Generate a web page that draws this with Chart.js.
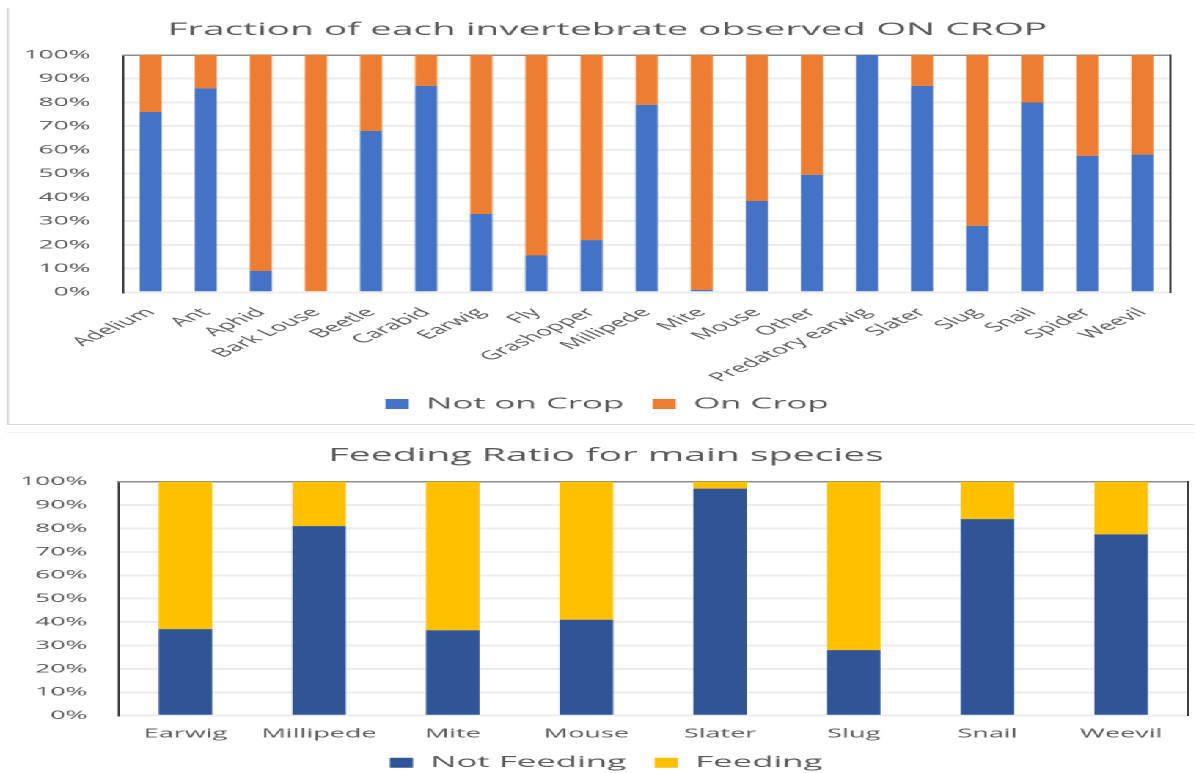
<!DOCTYPE html>
<html>
<head>
<meta charset="utf-8">
<script src="https://cdn.jsdelivr.net/npm/chart.js@4.4.1/dist/chart.umd.min.js"></script>
<style>
  html, body { margin: 0; padding: 0; background: #fff; overflow: hidden; width: 1195px; height: 773px; }
  /* both charts are laid out on a narrow stage that is widened horizontally */
  #stage { position: absolute; left: 0; top: 0; width: 543px; height: 781px; transform: scaleX(2.2); transform-origin: 0 0; }
  .card { position: absolute; box-sizing: border-box; }
  #cardTop { left: 3px; top: 8px; width: 540px; height: 417px; border-left: 1px solid #d9d9d9; border-bottom: 1px solid #d9d9d9; }
  #cardBottom { left: 3px; top: 432px; width: 540px; height: 349px; border-top: 1px solid #f0f0f0; }
  .box { position: relative; width: 100%; height: 100%; }
</style>
</head>
<body>
<div id="stage">
  <div class="card" id="cardTop"><div class="box"><canvas id="cropChart"></canvas></div></div>
  <div class="card" id="cardBottom"><div class="box"><canvas id="feedChart"></canvas></div></div>
</div>
<script>
// ---- data ----
const allSpecies = ['Adelium', 'Ant', 'Aphid', 'Bark Louse', 'Beetle', 'Carabid', 'Earwig', 'Fly',
  'Grashopper', 'Millipede', 'Mite', 'Mouse', 'Other', 'Predatory earwig', 'Slater', 'Slug',
  'Snail', 'Spider', 'Weevil'];
const notOnCrop = [76, 86, 9, 0, 68, 87, 33, 15.5, 22, 79, 1, 38.5, 49.5, 100, 87, 28, 80, 57.5, 58];
const onCrop    = [24, 14, 91, 100, 32, 13, 67, 84.5, 78, 21, 99, 61.5, 50.5, 0, 13, 72, 20, 42.5, 42];

const mainSpecies = ['Earwig', 'Millipede', 'Mite', 'Mouse', 'Slater', 'Slug', 'Snail', 'Weevil'];
const notFeeding = [37, 81, 36.5, 41, 97, 28, 84, 77.5];
const feeding    = [63, 19, 63.5, 59, 3, 72, 16, 22.5];

const percentTickLabels = ['0%', '10%', '20%', '30%', '40%', '50%', '60%', '70%', '80%', '90%', '100%'];

// ---- styling ----
Chart.defaults.font.family = "'Open Sans', sans-serif";
const TEXT = '#595959';
const GRID = '#ececec';
const FRAME_DARK = '#3d3d3d';
const FRAME_TOP = '#8c8c8c';

function stackedPercentChart(id, o) {
  return new Chart(document.getElementById(id), {
    type: 'bar',
    data: {
      labels: o.labels,
      datasets: o.series.map(s => ({
        label: s.label, data: s.data, backgroundColor: s.color,
        borderWidth: 0, barPercentage: 0.4, categoryPercentage: 1
      }))
    },
    options: {
      responsive: true,
      maintainAspectRatio: false,
      animation: false,
      devicePixelRatio: 2,
      layout: { padding: { left: o.padLeft, right: 0, top: 0, bottom: o.padBottom } },
      plugins: {
        title: {
          display: true, text: o.title, color: TEXT,
          font: { size: o.titleSize, weight: 'normal' },
          padding: { top: o.titleTop, bottom: o.titleBottom }
        },
        legend: {
          position: 'bottom',
          labels: { color: TEXT, font: { size: 15.8 }, boxWidth: 10.5, boxHeight: 10, padding: 13 }
        },
        tooltip: { enabled: false }
      },
      scales: {
        x: {
          stacked: true,
          grid: { display: false, drawTicks: false },
          border: { display: false },
          ticks: {
            color: TEXT, font: { size: o.xFont }, autoSkip: false,
            maxRotation: o.rotation, minRotation: o.rotation, padding: o.xPad
          },
          afterFit: s => { s.height = o.xHeight; }
        },
        y: {
          stacked: true, min: 0, max: 100,
          ticks: {
            stepSize: 10, color: TEXT, font: { size: 12 }, padding: o.yPad,
            callback: v => percentTickLabels[Math.round(v / 10)]
          },
          grid: {
            drawTicks: false, lineWidth: 2,
            color: c => (c.tick && c.tick.value === 100) ? 'rgba(0,0,0,0)' : GRID
          },
          border: { color: FRAME_DARK, width: 1 },
          afterFit: s => { s.width = o.yWidth; }
        },
        xTop: {
          type: 'category', labels: o.labels, position: 'top',
          grid: { display: false }, ticks: { display: false },
          border: { color: FRAME_TOP, width: 1.5 },
          afterFit: s => { s.height = 0; }
        },
        yRight: {
          type: 'linear', position: 'right',
          grid: { display: false }, ticks: { display: false },
          border: { color: FRAME_DARK, width: 1 },
          afterFit: s => { s.width = o.yRightWidth; }
        }
      }
    }
  });
}

stackedPercentChart('cropChart', {
  labels: allSpecies,
  series: [
    { label: 'Not on Crop', data: notOnCrop, color: '#4472C4' },
    { label: 'On Crop', data: onCrop, color: '#ED7D31' }
  ],
  title: 'Fraction of each invertebrate observed ON CROP',
  titleSize: 17.6, titleTop: 11.4, titleBottom: 14.5,
  padLeft: 5, padBottom: 2.1,
  yWidth: 47, yRightWidth: 4.6, yPad: 14.8,
  xFont: 12.3, rotation: 45, xPad: 13, xHeight: 90.8
});

stackedPercentChart('feedChart', {
  labels: mainSpecies,
  series: [
    { label: 'Not Feeding', data: notFeeding, color: '#2F5597' },
    { label: 'Feeding', data: feeding, color: '#FFC000' }
  ],
  title: 'Feeding Ratio for main species',
  titleSize: 17.8, titleTop: 12.3, titleBottom: 15.0,
  padLeft: 5, padBottom: 0.4,
  yWidth: 45.9, yRightWidth: 3, yPad: 14.2,
  xFont: 12.3, rotation: 0, xPad: 11, xHeight: 26.1
});
</script>
</body>
</html>
